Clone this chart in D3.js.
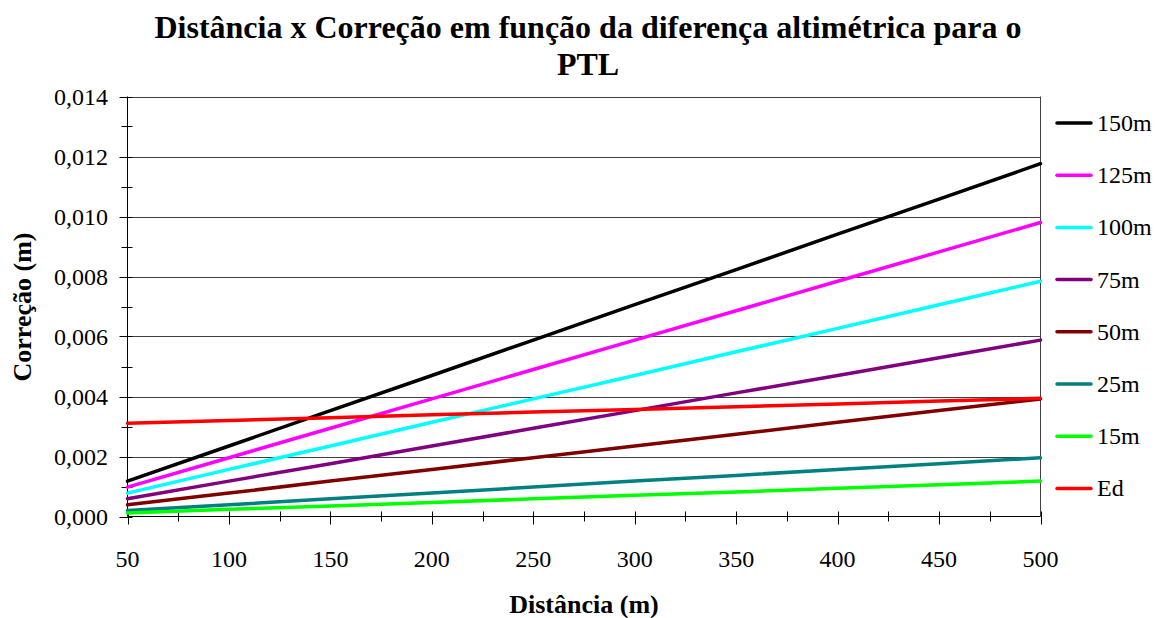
<!DOCTYPE html>
<html>
<head>
<meta charset="utf-8">
<script src="https://cdn.jsdelivr.net/npm/d3@7/dist/d3.min.js"></script>
<style>
  html, body { margin: 0; padding: 0; background: #fff; }
  svg { display: block; }
</style>
</head>
<body>
<svg id="chart" width="1163" height="618"></svg>
<script>
const distances = [50, 100, 150, 200, 250, 300, 350, 400, 450, 500];
const seriesNames = ["150m", "125m", "100m", "75m", "50m", "25m", "15m", "Ed"];
const seriesColors = ["#000000", "#FF00FF", "#00FFFF", "#800080", "#800000", "#008080", "#00FF00", "#FF0000"];
const s150 = [0.00118, 0.00235, 0.00353, 0.00470, 0.00588, 0.00706, 0.00823, 0.00941, 0.01058, 0.01176];
const s125 = [0.00098, 0.00196, 0.00294, 0.00392, 0.00490, 0.00588, 0.00686, 0.00784, 0.00882, 0.00980];
const s100 = [0.00078, 0.00157, 0.00235, 0.00314, 0.00392, 0.00470, 0.00549, 0.00627, 0.00706, 0.00784];
const s75  = [0.00059, 0.00118, 0.00176, 0.00235, 0.00294, 0.00353, 0.00412, 0.00470, 0.00529, 0.00588];
const s50  = [0.00039, 0.00078, 0.00118, 0.00157, 0.00196, 0.00235, 0.00274, 0.00314, 0.00353, 0.00392];
const s25  = [0.00020, 0.00039, 0.00059, 0.00078, 0.00098, 0.00118, 0.00137, 0.00157, 0.00176, 0.00196];
const s15  = [0.00012, 0.00024, 0.00035, 0.00047, 0.00059, 0.00071, 0.00082, 0.00094, 0.00106, 0.00118];
const sEd  = [0.00311, 0.00320, 0.00329, 0.00339, 0.00348, 0.00357, 0.00366, 0.00375, 0.00385, 0.00394];
const seriesValues = [s150, s125, s100, s75, s50, s25, s15, sEd];
const xTicks = [50, 100, 150, 200, 250, 300, 350, 400, 450, 500];
const yTicks = [0, 0.002, 0.004, 0.006, 0.008, 0.010, 0.012, 0.014];
const titleLines = ["Distância x Correção em função da diferença altimétrica para o", "PTL"];
const xTitle = "Distância (m)";
const yTitle = "Correção (m)";

const FONT = "Liberation Serif";
const svg = d3.select("#chart");
const L = 127.5, R = 1040.5, T = 96.5, B = 516.5;
const x = d3.scaleLinear().domain([50, 500]).range([L, R]);
const y = d3.scaleLinear().domain([0, 0.014]).range([B, T]);

// gridlines
svg.append("g").selectAll("line").data(yTicks.slice(1)).join("line")
  .attr("x1", L).attr("x2", R)
  .attr("y1", d => Math.round(y(d)) + 0.5).attr("y2", d => Math.round(y(d)) + 0.5)
  .attr("stroke", "#404040").attr("stroke-width", 1);
// right border
svg.append("line").attr("x1", R).attr("x2", R).attr("y1", T).attr("y2", B)
  .attr("stroke", "#404040").attr("stroke-width", 1);

// y axis
const yMinor = d3.range(0.001, 0.014, 0.002);
svg.append("g").selectAll("line").data(yTicks).join("line")
  .attr("x1", L - 8).attr("x2", L + 5)
  .attr("y1", d => Math.round(y(d)) + 0.5).attr("y2", d => Math.round(y(d)) + 0.5)
  .attr("stroke", "#000");
svg.append("g").selectAll("line").data(yMinor).join("line")
  .attr("x1", L - 6).attr("x2", L + 5)
  .attr("y1", d => Math.round(y(d)) + 0.5).attr("y2", d => Math.round(y(d)) + 0.5)
  .attr("stroke", "#000");
svg.append("line").attr("x1", L).attr("x2", L).attr("y1", T).attr("y2", B).attr("stroke", "#000");
svg.append("g").selectAll("text").data(yTicks).join("text")
  .attr("x", 108).attr("y", d => y(d) + 8)
  .attr("text-anchor", "end").attr("font-size", 24).attr("font-family", FONT)
  .text(d => d3.format(".3f")(d).replace(".", ","));

// x axis
const xMinor = d3.range(75, 500, 50);
svg.append("g").selectAll("line").data(xTicks).join("line")
  .attr("x1", d => Math.round(x(d)) + 0.5).attr("x2", d => Math.round(x(d)) + 0.5)
  .attr("y1", B - 5).attr("y2", B + 8).attr("stroke", "#000");
svg.append("g").selectAll("line").data(xMinor).join("line")
  .attr("x1", d => Math.round(x(d)) + 0.5).attr("x2", d => Math.round(x(d)) + 0.5)
  .attr("y1", B - 5).attr("y2", B + 5).attr("stroke", "#000");
svg.append("line").attr("x1", L).attr("x2", R).attr("y1", B).attr("y2", B).attr("stroke", "#000");
svg.append("g").selectAll("text").data(xTicks).join("text")
  .attr("x", d => x(d)).attr("y", 567)
  .attr("text-anchor", "middle").attr("font-size", 24).attr("font-family", FONT)
  .text(d => d);

// series lines
const line = d3.line().x((d, i) => x(distances[i])).y(d => y(d));
svg.append("g").selectAll("path").data(seriesValues).join("path")
  .attr("d", d => line(d))
  .attr("fill", "none")
  .attr("stroke", (d, i) => seriesColors[i])
  .attr("stroke-width", 3.5)
  .attr("stroke-linecap", "round");

// legend
const leg = svg.append("g").selectAll("g").data(seriesNames).join("g")
  .attr("transform", (d, i) => `translate(1057, ${123 + i * 52.2})`);
leg.append("line").attr("x1", 0).attr("x2", 34).attr("y1", 0).attr("y2", 0)
  .attr("stroke", (d, i) => seriesColors[i]).attr("stroke-width", 3.5).attr("stroke-linecap", "round");
leg.append("text").attr("x", 40).attr("y", 8).attr("font-size", 24).attr("font-family", FONT).text(d => d);

// titles
svg.append("g").selectAll("text").data(titleLines).join("text")
  .attr("x", 588).attr("y", (d, i) => 38 + i * 37)
  .attr("text-anchor", "middle").attr("font-size", 32).attr("font-weight", "bold").attr("font-family", FONT)
  .text(d => d);
svg.append("text").attr("x", 584).attr("y", 613).attr("text-anchor", "middle")
  .attr("font-size", 26).attr("font-weight", "bold").attr("font-family", FONT).text(xTitle);
svg.append("text").attr("transform", "translate(31, 307) rotate(-90)")
  .attr("text-anchor", "middle").attr("font-size", 26).attr("font-weight", "bold").attr("font-family", FONT).text(yTitle);
</script>
</body>
</html>
